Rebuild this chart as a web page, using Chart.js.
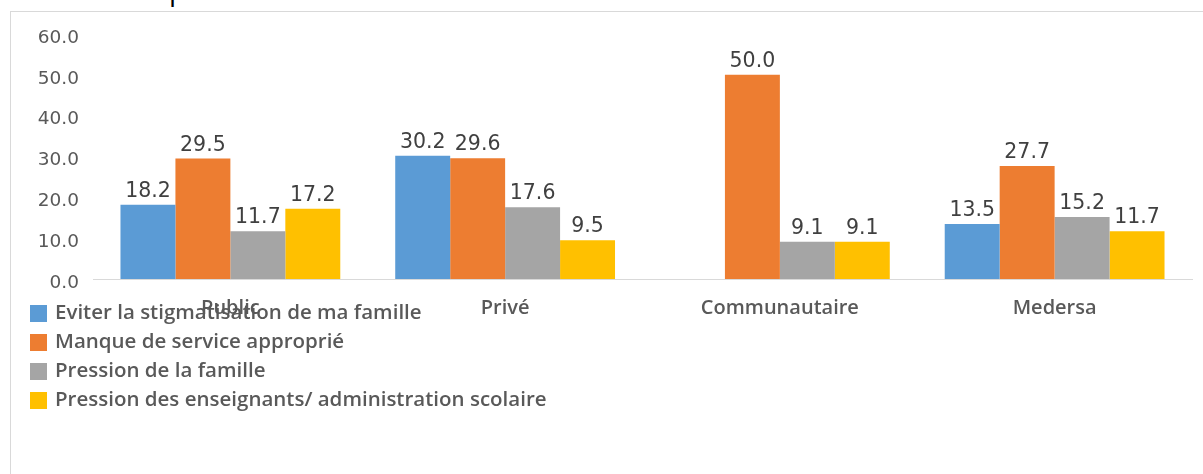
<!DOCTYPE html>
<html>
<head>
<meta charset="utf-8">
<script src="https://cdn.jsdelivr.net/npm/chart.js@4"></script>
<style>
  html, body { margin: 0; padding: 0; background: #fff; }
  body { width: 1203px; height: 474px; position: relative; overflow: hidden; }
  #frame { position: absolute; left: 10px; top: 11px; width: 1200px; height: 470px;
           border-top: 1px solid #d9d9d9; border-left: 1px solid #d9d9d9; }
  #cut { position: absolute; left: 169px; top: -30px; font: 28px "Open Sans"; color: #000; }
  #wrap { position: absolute; left: 0; top: 0; width: 1203px; height: 474px; }
</style>
</head>
<body>
<div id="cut">p</div>
<div id="frame"></div>
<div id="wrap"><canvas id="chart"></canvas></div>
<script>
const categories = ["Public", "Privé", "Communautaire", "Medersa"];
const seriesNames = [
  "Eviter la stigmatisation de ma famille",
  "Manque de service approprié",
  "Pression de la famille",
  "Pression des enseignants/ administration scolaire"
];
const stigmatisation = [18.2, 30.2, null, 13.5];
const manqueService = [29.5, 29.6, 50.0, 27.7];
const pressionFamille = [11.7, 17.6, 9.1, 15.2];
const pressionEnseignants = [17.2, 9.5, 9.1, 11.7];
const yTicks = [0, 10, 20, 30, 40, 50, 60];

const colors = ["#5B9BD5", "#ED7D31", "#A5A5A5", "#FFC000"];
const values = [stigmatisation, manqueService, pressionFamille, pressionEnseignants];

// value labels on top of bars
const barLabels = {
  id: "barLabels",
  afterDatasetsDraw(chart) {
    const ctx = chart.ctx;
    ctx.save();
    ctx.font = '20.5px "DejaVu Sans"';
    ctx.fillStyle = "#404040";
    ctx.textAlign = "center";
    ctx.textBaseline = "bottom";
    chart.data.datasets.forEach((ds, i) => {
      chart.getDatasetMeta(i).data.forEach((bar, j) => {
        if (ds.data[j] == null) return;
        ctx.fillText(ds.data[j].toFixed(1), bar.x, bar.y - 3);
      });
    });
    ctx.restore();
  }
};

// vertical legend in the lower left, over the category labels
const sideLegend = {
  id: "sideLegend",
  afterDraw(chart) {
    const ctx = chart.ctx;
    ctx.save();
    ctx.font = '600 20.5px "Open Sans"';
    ctx.textBaseline = "middle";
    chart.data.datasets.forEach((ds, i) => {
      const y = 313 + i * 29;
      ctx.fillStyle = ds.backgroundColor;
      ctx.fillRect(30, y - 8, 17, 17);
      ctx.fillStyle = "#595959";
      ctx.fillText(ds.label, 55, y);
    });
    ctx.restore();
  }
};

new Chart(document.getElementById("chart"), {
  type: "bar",
  data: {
    labels: categories,
    datasets: seriesNames.map((name, i) => ({
      label: name,
      data: values[i],
      backgroundColor: colors[i],
      categoryPercentage: 0.8,
      barPercentage: 1.0
    }))
  },
  options: {
    responsive: true,
    maintainAspectRatio: false,
    animation: false,
    layout: { padding: { top: 34, right: 11, bottom: 155, left: 0 } },
    plugins: { legend: { display: false }, tooltip: { enabled: false } },
    scales: {
      x: {
        grid: { display: false, drawTicks: false },
        border: { display: true, color: "#d9d9d9", width: 1 },
        ticks: { color: "#595959", font: { family: "Open Sans", size: 20, weight: 600 }, padding: 17 },
        afterFit(scale) { scale.height = 40; }
      },
      y: {
        min: 0, max: 60,
        afterBuildTicks(scale) { scale.ticks = yTicks.map(v => ({ value: v })); },
        grid: { display: false, drawTicks: false },
        border: { display: false },
        ticks: {
          color: "#595959",
          font: { family: "DejaVu Sans", size: 18.5 },
          padding: 14,
          labelOffset: 4,
          callback: v => v.toFixed(1)
        },
        afterFit(scale) { scale.width = 93; }
      }
    }
  },
  plugins: [barLabels, sideLegend]
});
</script>
</body>
</html>
